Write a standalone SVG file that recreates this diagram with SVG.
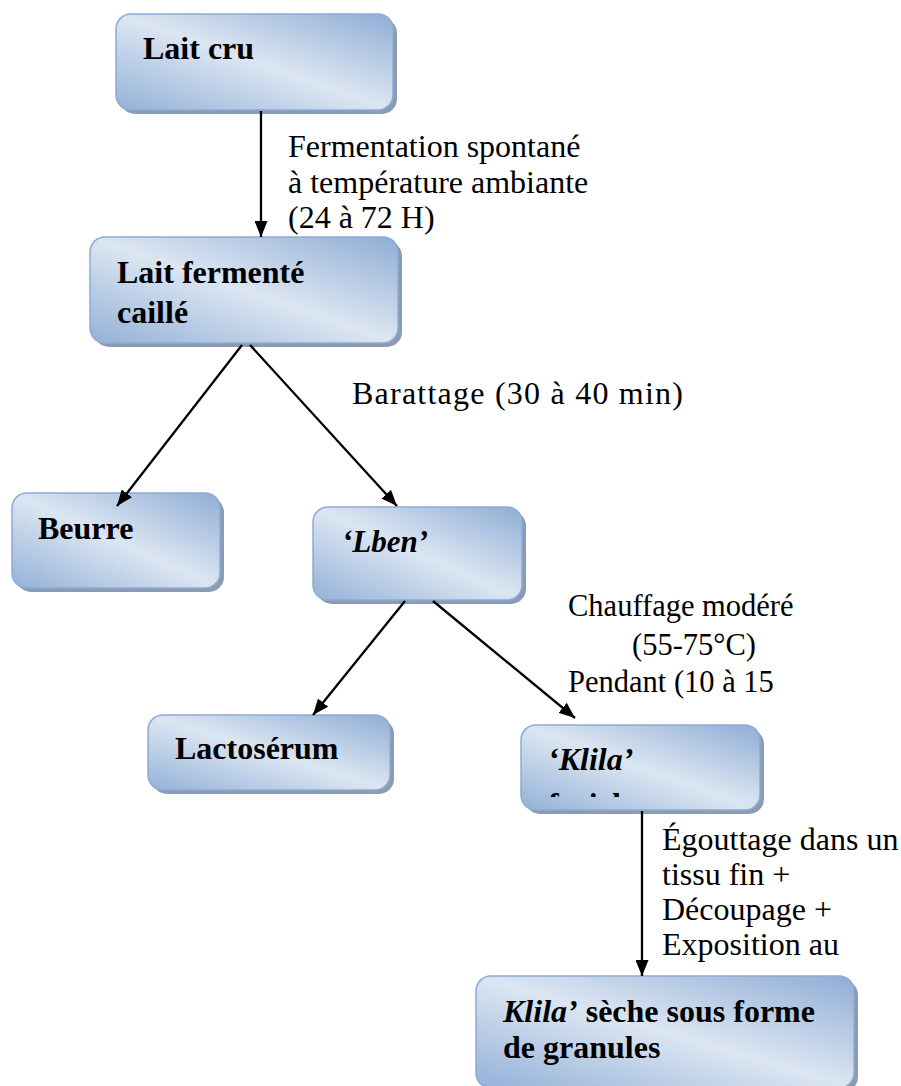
<svg xmlns="http://www.w3.org/2000/svg" width="901" height="1086" viewBox="0 0 901 1086">
<defs>
<linearGradient id="g" x1="1" y1="0" x2="0" y2="1">
<stop offset="0" stop-color="#8fadd5"/>
<stop offset="0.5" stop-color="#dce6f2"/>
<stop offset="1" stop-color="#93b1d8"/>
</linearGradient>
<marker id="ah" markerUnits="userSpaceOnUse" markerWidth="16" markerHeight="13" viewBox="0 0 16 13" refX="16" refY="6.5" orient="auto">
<path d="M0,0 L16,6.5 L0,13 z" fill="#000"/>
</marker>
<clipPath id="kc"><rect x="521" y="725" width="239" height="72"/></clipPath>
</defs>
<style>
.sh{fill:#8b9bb2}
.bx{fill:url(#g);stroke:#8eabd4;stroke-width:1.5}
.t{font-family:"Liberation Serif","Times New Roman",serif;font-size:32px;fill:#000}
.s{font-size:30.5px}
.b{font-weight:bold}
.i{font-style:italic}
.c{stroke:#000;stroke-width:2.3;fill:none;marker-end:url(#ah)}
</style>
<g id="labels">
<text class="t" x="288" y="157">Fermentation spontané</text>
<text class="t" x="288" y="193">à température ambiante</text>
<text class="t" x="288" y="228">(24 à 72 H)</text>
<text class="t" x="352" y="404" textLength="331" lengthAdjust="spacing">Barattage (30 à 40 min)</text>
<text class="t s" x="568" y="616">Chauffage modéré</text>
<text class="t s" x="632" y="655">(55-75°C)</text>
<text class="t s" x="568" y="692">Pendant (10 à 15</text>
<text class="t" x="662" y="850">Égouttage dans un</text>
<text class="t" x="662" y="885">tissu fin +</text>
<text class="t" x="662" y="920">Découpage +</text>
<text class="t" x="662" y="955">Exposition au</text>
</g>
<g id="n1">
<rect class="sh" x="120" y="18" width="277" height="96" rx="15"/>
<rect class="bx" x="116" y="14" width="277" height="96" rx="15"/>
<text class="t b" x="143" y="59">Lait cru</text>
</g>
<g id="n2">
<rect class="sh" x="94" y="241" width="308" height="106" rx="15"/>
<rect class="bx" x="90" y="237" width="308" height="106" rx="15"/>
<text class="t b" x="117" y="283">Lait fermenté</text>
<text class="t b" x="117" y="323">caillé</text>
</g>
<g id="n3">
<rect class="sh" x="16" y="497" width="208" height="95" rx="15"/>
<rect class="bx" x="12" y="493" width="208" height="95" rx="15"/>
<text class="t b" x="38" y="539">Beurre</text>
</g>
<g id="n4">
<rect class="sh" x="317" y="511" width="209" height="93" rx="15"/>
<rect class="bx" x="313" y="507" width="209" height="93" rx="15"/>
<text class="t b i" x="342" y="552" style="font-size:31px">‘Lben’</text>
</g>
<g id="n5">
<rect class="sh" x="152" y="719" width="242" height="75" rx="15"/>
<rect class="bx" x="148" y="715" width="242" height="75" rx="15"/>
<text class="t b" x="175" y="759">Lactosérum</text>
</g>
<g id="n6">
<rect class="sh" x="525" y="729" width="239" height="85" rx="15"/>
<rect class="bx" x="521" y="725" width="239" height="85" rx="15"/>
<text class="t b i" x="548" y="770">‘Klila’</text>
<text class="t b" x="548" y="815" clip-path="url(#kc)">fraiche</text>
</g>
<g id="n7">
<rect class="sh" x="480" y="980" width="378" height="112" rx="15"/>
<rect class="bx" x="476" y="976" width="378" height="112" rx="15"/>
<text class="t b" x="503" y="1022"><tspan class="i">Klila’</tspan> sèche sous forme</text>
<text class="t b" x="503" y="1058">de granules</text>
</g>
<g id="connectors">
<line class="c" x1="261" y1="111" x2="261" y2="237"/>
<line class="c" x1="242" y1="345" x2="117" y2="506"/>
<line class="c" x1="250" y1="345" x2="397" y2="506"/>
<line class="c" x1="405" y1="601" x2="313" y2="715"/>
<line class="c" x1="433" y1="601" x2="575" y2="718"/>
<line class="c" x1="642" y1="811" x2="642" y2="976"/>
</g>
</svg>
